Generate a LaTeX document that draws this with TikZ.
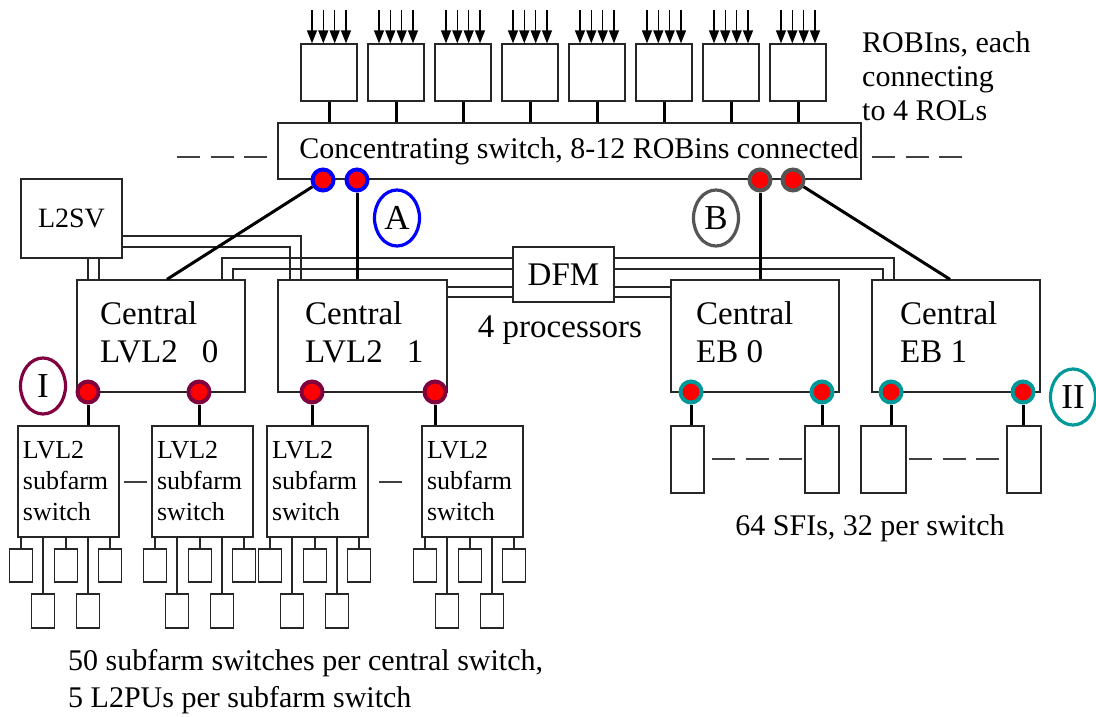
\documentclass[tikz,border=0pt]{standalone}
\usepackage{fontspec}
\setmainfont{Liberation Serif}
\usetikzlibrary{arrows.meta,shapes.geometric}

\definecolor{portred}{RGB}{255,0,0}
\definecolor{ringblue}{RGB}{0,0,255}
\definecolor{ringgray}{RGB}{85,85,85}
\definecolor{ringwine}{RGB}{128,0,64}
\definecolor{ringteal}{RGB}{0,153,153}

\tikzset{
  box/.style={draw=black!85, line width=1.3pt, inner sep=0pt},
  wire/.style={black!85, line width=1.3pt},
  link/.style={black, line width=3pt},
  feed/.style={black, line width=1.4pt, -{Triangle[length=13pt,width=10pt]}},
  port/.style={circle, fill=portred, draw=#1, line width=4pt, minimum size=21pt, inner sep=0pt},
  tag/.style={ellipse, draw=#1, line width=3.2pt, minimum width=45pt, minimum height=56pt, inner sep=0pt, font=\fontsize{35}{40}\selectfont},
  gap/.style={black!75, line width=1.4pt, dash pattern=on 23pt off 10.5pt},
  txt/.style={inner sep=0pt, font=\fontsize{30}{34}\selectfont},
  big/.style={inner sep=0pt, align=left, anchor=west, font=\fontsize{33}{38}\selectfont},
  farm/.style={box, minimum width=101pt, minimum height=111pt, text width=91pt, align=left, font=\fontsize{26}{31}\selectfont},
}

\begin{document}
\begin{tikzpicture}[x=1pt, y=-1pt]
    \useasboundingbox (0,0) rectangle (1096,716);

    % ROBIns, four ROLs each
    \foreach \i in {0,...,7} {
        \node[box, minimum width=56pt, minimum height=57pt] (rob\i) at (329+67*\i, 72.5) {};
        \foreach \d in {-17,-5.7,5.7,17}
            \draw[feed] ([xshift=\d pt, yshift=33pt]rob\i.north) -- ([xshift=\d pt]rob\i.north);
    }
    \node[txt, align=left, anchor=west] (robtxt) at (862,76) {ROBIns, each\\connecting\\to 4 ROLs};

    % Concentrating switch
    \node[box, minimum width=583pt, minimum height=56pt] (conc) at (569.5,151) {};
    \node[txt] (conctxt) at (579,151) {Concentrating switch, 8-12 ROBins connected};
    \foreach \i in {0,...,7}
        \draw[link] (rob\i.south) -- (rob\i.south |- conc.north);
    \draw[gap] (177,157) -- (267,157);
    \draw[gap] (872,157) -- (962,157);

    % L2SV and DFM
    \node[box, minimum width=101pt, minimum height=79pt, font=\fontsize{28}{32}\selectfont] (l2sv) at (71.5,218.5) {L2SV};
    \node[box, minimum width=101pt, minimum height=55pt, font=\fontsize{33}{38}\selectfont] (dfm) at (563.5,274.5) {DFM};
    \node[inner sep=0pt, font=\fontsize{33}{38}\selectfont] (proc) at (560,330) {4 processors};

    % Central switches
    \node[box, minimum width=168pt, minimum height=112pt] (cl0) at (161,336) {};
    \node[box, minimum width=169pt, minimum height=112pt] (cl1) at (362.5,336) {};
    \node[box, minimum width=168pt, minimum height=112pt] (ceb0) at (755,336) {};
    \node[box, minimum width=168pt, minimum height=112pt] (ceb1) at (956,336) {};
    \node[big] (cl0txt) at (100,332) {Central\\LVL2\hspace{24pt}0};
    \node[big] (cl1txt) at (305,332) {Central\\LVL2\hspace{24pt}1};
    \node[big] (ceb0txt) at (696,332) {Central\\EB 0};
    \node[big] (ceb1txt) at (900,332) {Central\\EB 1};

    % Control wires
    \draw[wire] (l2sv.east |- 0,236) -| (301,0 |- cl1.north);
    \draw[wire] (l2sv.east |- 0,247) -| (290,0 |- cl1.north);
    \draw[wire] (l2sv.south -| 88,0) -- (88,0 |- cl0.north);
    \draw[wire] (l2sv.south -| 99,0) -- (99,0 |- cl0.north);
    \draw[wire] (dfm.west |- 0,258) -| (222,0 |- cl0.north);
    \draw[wire] (dfm.west |- 0,269) -| (233,0 |- cl0.north);
    \draw[wire] (dfm.west |- 0,287) -- (cl1.east |- 0,287);
    \draw[wire] (dfm.west |- 0,297) -- (cl1.east |- 0,297);
    \draw[wire] (dfm.east |- 0,287) -- (ceb0.west |- 0,287);
    \draw[wire] (dfm.east |- 0,297) -- (ceb0.west |- 0,297);
    \draw[wire] (dfm.east |- 0,258) -| (894,0 |- ceb1.north);
    \draw[wire] (dfm.east |- 0,269) -| (883,0 |- ceb1.north);

    % Ports of the concentrating switch
    \node[port=ringblue] (cp0) at (323,180) {};
    \node[port=ringblue] (cp1) at (357,180) {};
    \node[port=ringgray] (cp2) at (760,180) {};
    \node[port=ringgray] (cp3) at (793,180) {};
    \draw[link] (cp0) -- ([xshift=6pt]cl0.north);
    \draw[link] (cp1) -- (cp1 |- cl1.north);
    \draw[link] (cp2) -- (cp2 |- ceb0.north);
    \draw[link] (cp3) -- ([xshift=-6pt]ceb1.north);

    % LVL2 subfarm switches and L2PUs
    \foreach \s/\l in {0/18, 1/152, 2/267, 3/422} {
        \node[farm] (sf\s) at (\l+50.5, 481.5) {LVL2\\subfarm\\switch};
        \foreach \k/\o in {0/3, 2/48, 4/92} {
            \node[box, minimum width=23pt, minimum height=33pt] (pu\s\k) at (\l+\o, 565.5) {};
            \draw[wire] (pu\s\k.north) -- (pu\s\k.north |- sf\s.south);
        }
        \foreach \k/\o in {1/25, 3/70} {
            \node[box, minimum width=23pt, minimum height=34pt] (pu\s\k) at (\l+\o, 611) {};
            \draw[wire] (pu\s\k.north) -- (pu\s\k.north |- sf\s.south);
        }
    }
    \draw[gap] (124,482) -- (147,482);
    \draw[gap] (379,482) -- (402,482);
    \foreach \s/\x in {0/88, 1/199, 2/312, 3/435} {
        \node[port=ringwine] (lp\s) at (\x,392) {};
        \draw[link] (lp\s) -- (lp\s |- sf\s.north);
    }

    % SFIs
    \node[box, minimum width=33pt, minimum height=67pt] (sfi0) at (687.5,459.5) {};
    \node[box, minimum width=34pt, minimum height=67pt] (sfi1) at (822,459.5) {};
    \node[box, minimum width=45pt, minimum height=67pt] (sfi2) at (883.5,459.5) {};
    \node[box, minimum width=34pt, minimum height=67pt] (sfi3) at (1024,459.5) {};
    \draw[gap] (712,459) -- (802,459);
    \draw[gap] (909,459) -- (1000,459);
    \foreach \s/\x in {0/691, 1/822, 2/891, 3/1023} {
        \node[port=ringteal] (ep\s) at (\x,392) {};
        \draw[link] (ep\s) -- (ep\s |- sfi\s.north);
    }

    % Labels
    \node[tag=ringblue] (tagA) at (397,218) {A};
    \node[tag=ringgray] (tagB) at (716,218) {B};
    \node[tag=ringwine] (tagI) at (43,386) {I};
    \node[tag=ringteal] (tagII) at (1073,397) {II};
    \node[txt] (sfitxt) at (870,528) {64 SFIs, 32 per switch};
    \node[txt, align=left, anchor=west, font=\fontsize{30}{37}\selectfont] (farmtxt) at (68,681.5) {50 subfarm switches per central switch,\\5 L2PUs per subfarm switch};
\end{tikzpicture}
\end{document}
